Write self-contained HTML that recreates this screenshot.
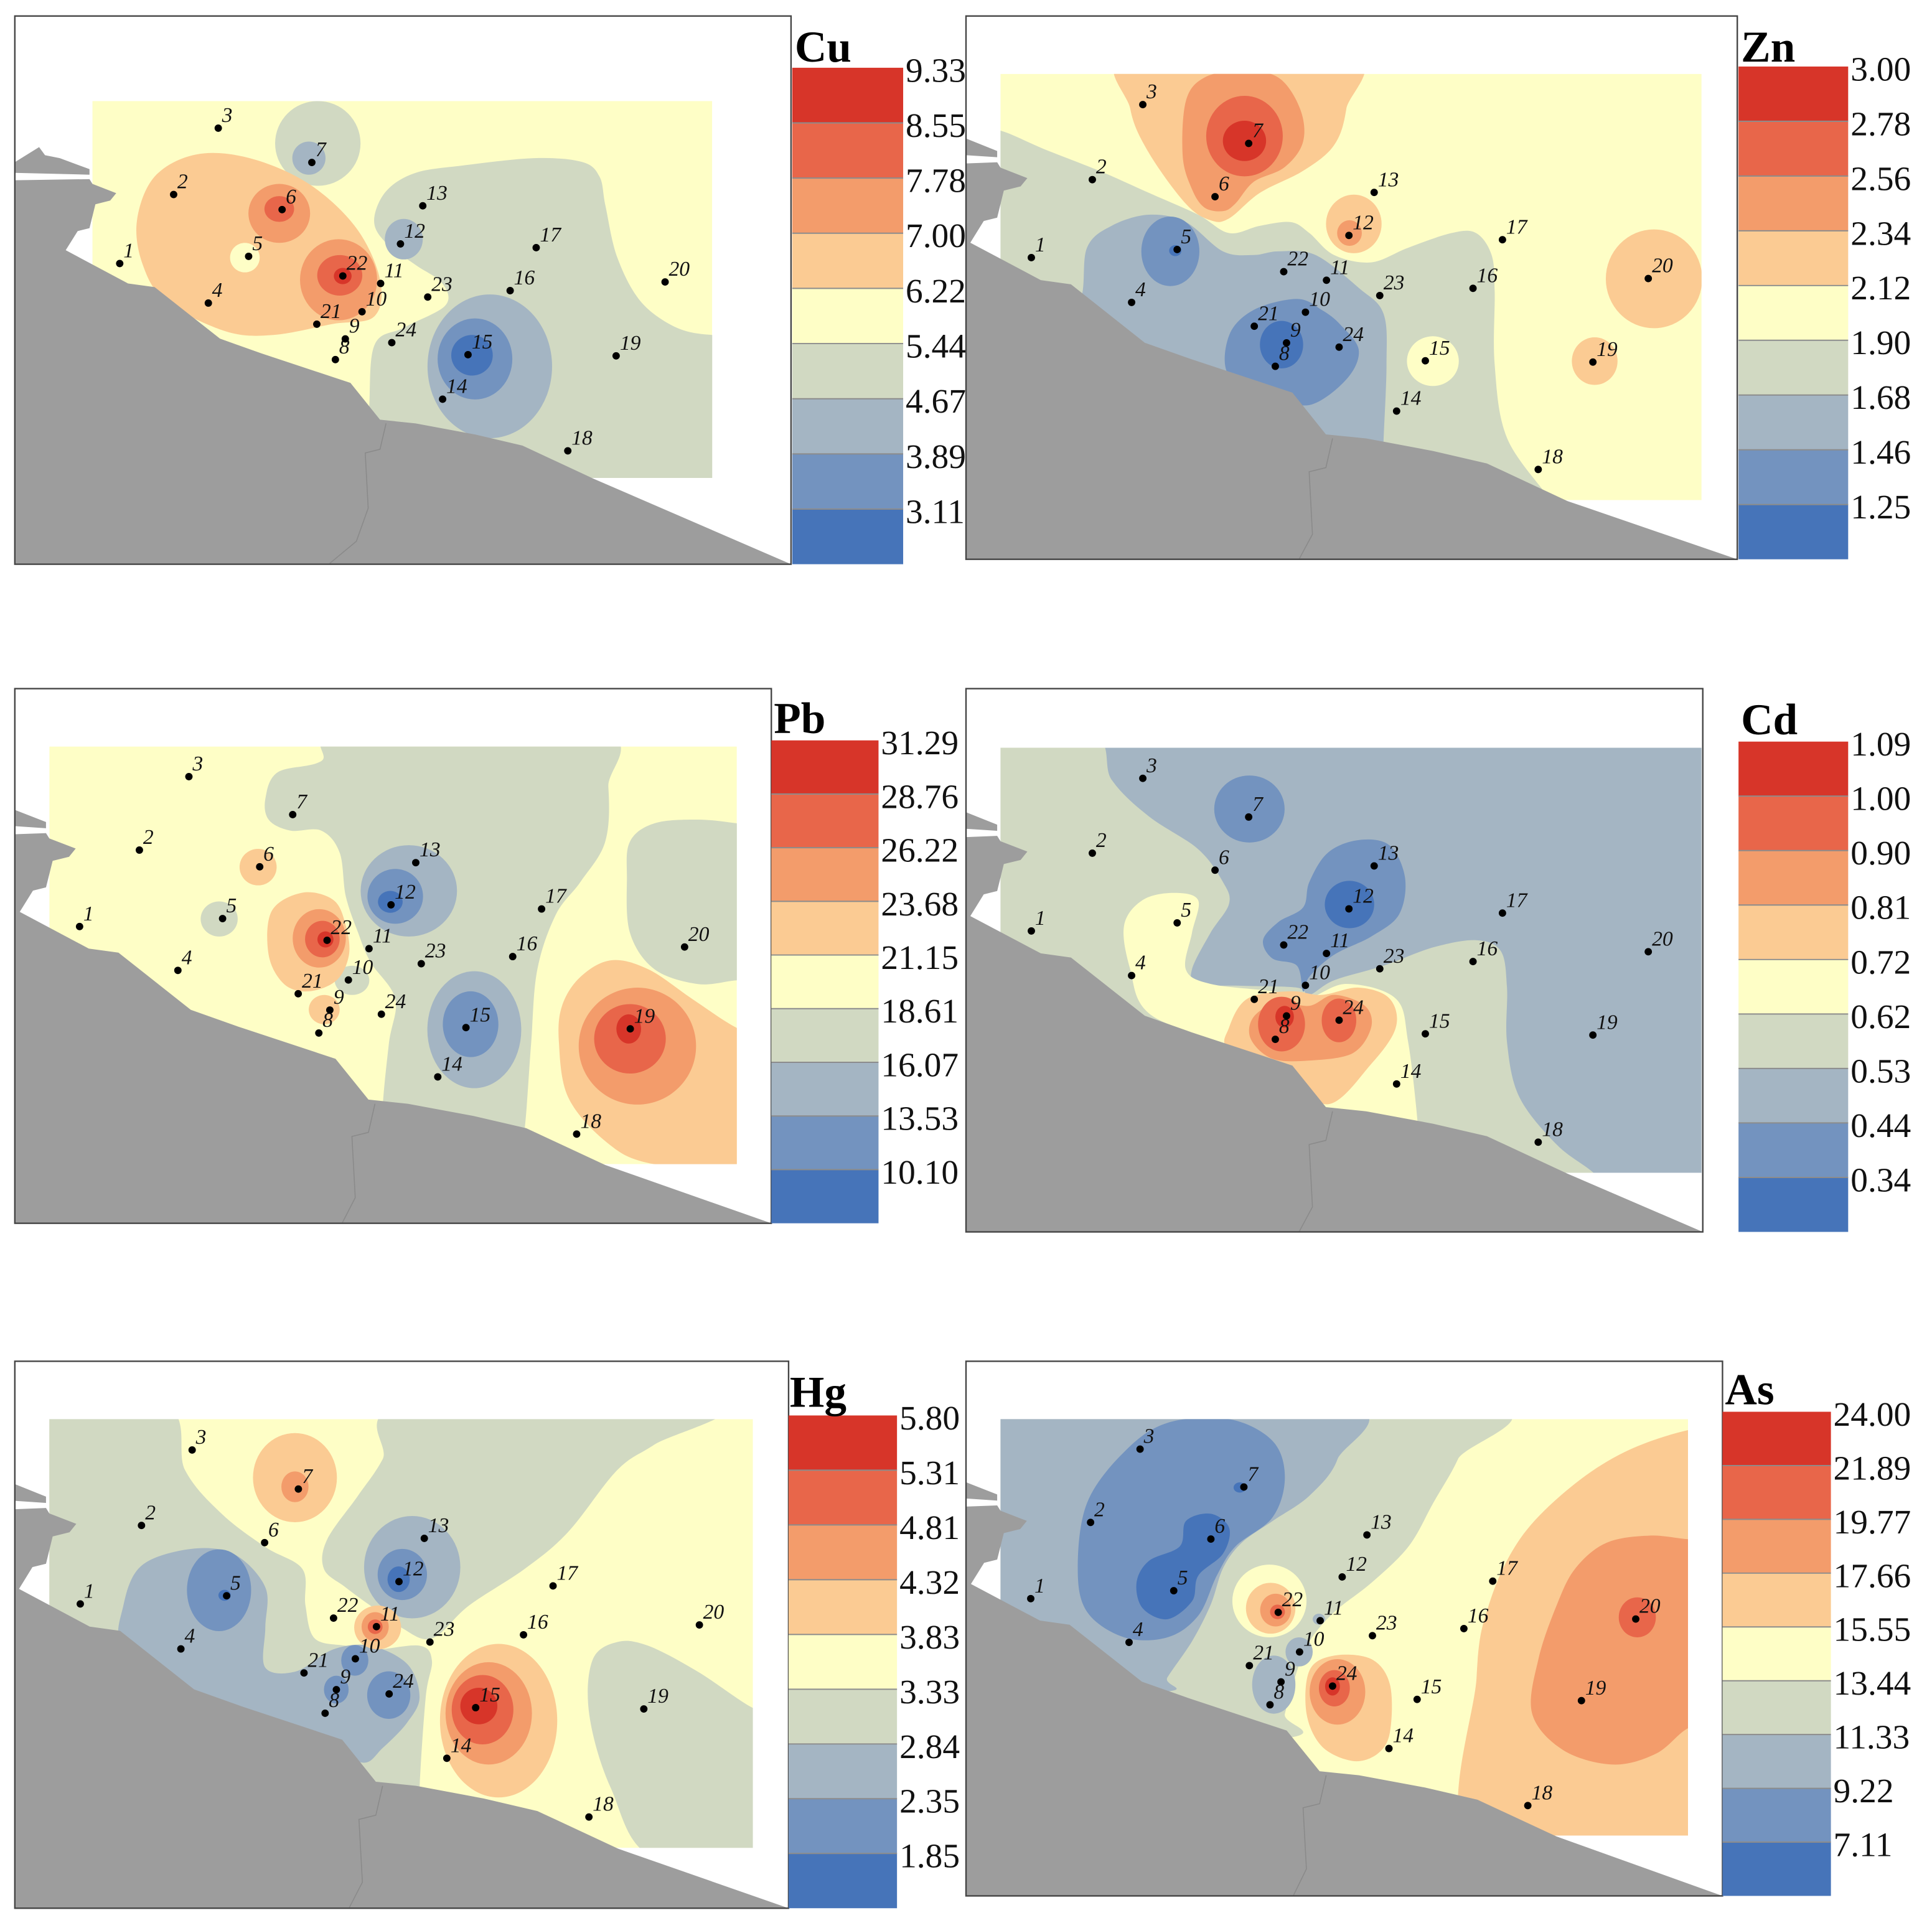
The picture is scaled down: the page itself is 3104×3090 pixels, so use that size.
<!DOCTYPE html>
<html><head><meta charset="utf-8">
<style>
html,body{margin:0;padding:0;background:#fff;width:3104px;height:3090px;overflow:hidden;}
svg{display:block;overflow:hidden;}
text{font-family:"Liberation Serif",serif;}
</style></head>
<body>
<svg id="chart" xmlns="http://www.w3.org/2000/svg" width="3104" height="3090" viewBox="0 0 1568 1561">
<rect x="0" y="0" width="1568" height="1561" fill="#ffffff"/>
</svg>
<script>
// ---- data ----
const LEVEL_COLORS=['#4674b9','#7393bf','#a4b5c3','#d1d9c2','#fefec6','#fbcb93','#f39c6b','#e8664a','#d73529'];
const STATION_IDS=['1','2','3','4','5','6','7','8','9','10','11','12','13','14','15','16','17','18','19','20','21','22','23','24'];
const STATION_X=[0.044,0.131,0.203,0.187,0.252,0.306,0.354,0.392,0.408,0.435,0.465,0.497,0.533,0.565,0.606,0.674,0.716,0.767,0.845,0.924,0.362,0.404,0.541,0.483];
const STATION_Y=[0.431,0.248,0.072,0.536,0.412,0.288,0.163,0.686,0.631,0.559,0.484,0.379,0.278,0.791,0.673,0.503,0.389,0.928,0.676,0.480,0.592,0.464,0.520,0.641];
const LAND_TRACE=[155,275,1200,1298];
const LAND_MAIN=[-300,490,25,490,150,487,155,500,195,525,185,545,160,555,150,620,130,628,110,680,215,770,260,780,370,920,440,960,590,1040,640,1140,700,1150,800,1180,880,1210,1000,1300,1330,1530,1500,1650,1500,1800,-300,1800];
const LAND_STUB=[-300,440,25,440,65,400,75,422,100,430,150,460,150,475,-300,470];

const CU_LABELS=['9.33','8.55','7.78','7.00','6.22','5.44','4.67','3.89','3.11'];
const ZN_LABELS=['3.00','2.78','2.56','2.34','2.12','1.90','1.68','1.46','1.25'];
const PB_LABELS=['31.29','28.76','26.22','23.68','21.15','18.61','16.07','13.53','10.10'];
const CD_LABELS=['1.09','1.00','0.90','0.81','0.72','0.62','0.53','0.44','0.34'];
const HG_LABELS=['5.80','5.31','4.81','4.32','3.83','3.33','2.84','2.35','1.85'];
const AS_LABELS=['24.00','21.89','19.77','17.66','15.55','13.44','11.33','9.22','7.11'];

const CU_SHAPES=[
 ['p',3,[600,1350,620,1140,630,940,680,890,750,830,745,770,700,720,650,660,630,600,650,520,700,470,780,450,900,430,980,440,1010,480,1020,560,1040,700,1080,820,1140,890,1200,910,1260,905,1260,1350]],
 ['e',3,535,390,72,115],['e',2,520,430,28,45],['e',2,680,650,32,55],
 ['p',5,[230,600,260,480,330,420,420,430,520,500,600,620,640,760,630,860,560,880,460,910,380,900,280,820,240,720]],
 ['e',4,412,700,25,40],
 ['e',6,470,580,52,80],['e',6,570,760,65,110],['e',7,470,568,25,35],['e',7,572,748,38,55],['e',8,577,750,15,22],
 ['e',2,825,995,105,195],['e',1,800,975,63,110],['e',0,795,965,35,55]
];
const ZN_SHAPES=[
 ['p',3,[20,360,60,360,130,410,220,470,300,530,380,590,430,640,480,620,530,610,560,640,600,700,660,720,720,680,790,640,830,640,855,700,860,800,860,1000,880,1200,950,1370,960,1420,20,1420]],
 ['e',4,760,990,42,68],
 ['p',2,[150,900,190,820,200,680,240,620,300,590,360,610,420,690,470,700,510,690,570,700,640,790,680,860,685,1000,680,1220,680,1320,300,1320]],
 ['e',1,335,690,47,95],['e',0,343,688,10,15],
 ['p',1,[430,920,470,850,540,820,580,850,610,890,640,960,620,1040,560,1110,500,1080,430,1030]],
 ['e',0,515,945,35,65],
 ['p',5,[270,150,625,150,620,300,600,400,550,470,480,530,430,600,400,605,360,560,300,420,270,300]],
 ['p',6,[360,280,390,215,450,195,510,215,545,300,550,390,520,460,470,500,440,560,420,580,390,570,370,520,355,430]],
 ['e',7,455,375,62,110],['e',8,455,388,35,55],
 ['e',5,632,615,45,80],['e',6,625,640,20,35],
 ['e',5,1118,765,78,135],['e',5,1022,990,37,65]
];
const PB_SHAPES=[
 ['p',3,[430,330,450,260,520,230,560,150,970,150,985,300,980,450,940,560,900,650,870,800,860,1000,850,1230,840,1300,620,1300,620,1170,630,1000,640,880,600,780,580,700,560,600,550,480,520,420,470,420,435,390]],
 ['p',3,[1020,450,1060,400,1130,390,1193,400,1240,410,1240,830,1193,830,1130,840,1060,800,1020,700,1015,550]],
 ['e',3,355,662,30,48],['e',3,570,830,28,40],
 ['e',2,662,585,78,125],['e',1,640,600,45,75],['e',0,632,615,20,30],
 ['e',2,768,965,76,160],['e',1,762,950,45,90],
 ['e',5,418,520,30,50],['e',5,525,910,25,40],
 ['p',5,[440,640,490,590,540,610,560,680,565,760,545,830,500,860,460,840,435,760]],
 ['e',6,517,715,43,80],['e',7,522,717,28,50],['e',8,527,718,13,22],
 ['p',5,[910,900,940,820,990,775,1050,800,1120,880,1193,960,1240,980,1240,1360,1193,1350,1050,1330,980,1270,920,1150,905,1000]],
 ['e',6,1032,1010,95,160],['e',7,1020,990,58,95],['e',8,1018,963,20,40]
];
const CD_SHAPES=[
 ['p',3,[0,150,205,150,240,280,300,380,380,470,420,560,430,620,400,700,370,800,380,840,450,845,540,850,560,870,600,830,680,790,760,740,830,720,870,750,880,850,880,1000,900,1150,960,1280,1020,1358,1050,1420,0,1420]],
 ['p',4,[260,680,290,610,340,590,380,610,370,700,360,800,400,840,500,860,555,880,620,840,700,880,720,1000,735,1215,735,1300,580,1250,420,1020,300,920,270,800]],
 ['p',5,[430,960,460,880,530,860,580,870,640,850,690,880,700,960,660,1060,590,1170,520,1080,430,1020]],
 ['p',6,[470,930,510,890,560,900,600,870,650,900,660,960,630,1030,560,1050,500,1045,465,990]],
 ['e',7,515,950,38,75],['e',7,608,940,28,60],['e',8,520,930,15,30],
 ['e',1,463,360,57,92],
 ['p',1,[485,720,510,670,550,630,560,560,590,480,640,445,690,460,715,550,705,650,660,710,600,760,560,820,550,860,540,790,500,770]],
 ['e',0,625,622,40,65]
];
const HG_SHAPES=[
 ['p',3,[0,150,265,150,300,330,360,450,430,540,490,600,495,700,510,790,560,810,610,820,680,810,700,850,690,950,680,1200,680,1400,0,1400]],
 ['p',3,[660,150,1160,150,1060,260,1000,330,920,500,850,600,760,700,700,790,650,760,600,700,560,650,525,600,530,520,580,400,620,300]],
 ['p',3,[960,850,1000,800,1050,810,1130,880,1220,980,1260,990,1260,1390,1060,1390,990,1200,955,1000]],
 ['p',2,[200,700,230,590,310,545,380,560,430,650,430,760,430,870,480,880,540,820,600,810,660,860,680,950,660,1020,620,1090,590,1130,540,1090,400,1000,300,920,200,820]],
 ['e',1,355,658,52,112],['e',0,364,672,10,15],
 ['e',1,575,850,22,42],['e',1,545,930,20,38],['e',1,630,945,35,65],
 ['e',2,668,595,78,140],['e',1,652,615,40,70],['e',0,646,628,18,35],
 ['e',5,478,350,68,122],['e',6,478,375,22,42],
 ['e',5,612,760,38,60],['e',6,608,758,22,40],['e',7,608,758,12,20],
 ['e',5,808,1015,95,210],['e',6,792,995,70,140],['e',7,782,985,50,95],['e',8,776,975,30,50]
];
const AS_SHAPES=[
 ['p',3,[0,150,835,150,800,300,760,420,720,540,660,640,600,720,560,800,540,880,520,1000,510,1070,0,1100]],
 ['p',2,[0,150,612,150,605,300,560,400,500,470,450,530,420,600,400,700,370,800,330,900,320,940,0,940]],
 ['p',1,[185,600,200,420,260,280,330,200,430,190,500,250,520,350,500,460,440,540,410,620,380,730,330,790,260,790,200,720]],
 ['p',0,[280,640,300,580,350,540,360,470,400,450,430,490,420,560,380,620,370,690,330,740,290,710]],
 ['e',0,447,378,10,14],
 ['e',4,495,690,60,100],['e',5,497,710,40,70],['e',6,505,715,25,45],['e',7,508,720,12,20],
 ['e',2,575,740,10,15],['e',2,543,830,22,40],['e',2,502,920,35,80],
 ['p',5,[560,880,600,840,660,850,690,920,690,1050,670,1110,630,1130,580,1090,555,1000]],
 ['e',6,605,940,45,90],['e',7,600,930,25,50],['e',8,597,925,12,25],
 ['p',5,[830,1390,830,900,850,700,900,520,980,380,1070,280,1172,220,1240,220,1240,1390]],
 ['p',6,[930,850,960,700,990,600,1040,530,1110,510,1172,520,1220,520,1220,1020,1172,1040,1120,1110,1050,1140,970,1100,920,1000]],
 ['e',7,1090,735,30,55]
];

const PANELS=[
 {key:'cu',title:'Cu',frame:[12,13,630,445],rect:[75,82,503,306],cbar:[643,55,90,403],titlePos:[645,50],labels:CU_LABELS,bg:4,trace:[155,275,1200,1298],shapes:CU_SHAPES},
 {key:'zn',title:'Zn',frame:[784,13,626,441],rect:[812,60,569,346],cbar:[1411,54,89,400],titlePos:[1413,50],labels:ZN_LABELS,bg:4,trace:[60,205,1195,1370],shapes:ZN_SHAPES},
 {key:'pb',title:'Pb',frame:[12,559,614,434],rect:[40,606,558,339],cbar:[626,601,87,392],titlePos:[628,595],labels:PB_LABELS,bg:4,trace:[80,190,1193,1333],shapes:PB_SHAPES},
 {key:'cd',title:'Cd',frame:[784,559,598,441],rect:[812,607,569,345],cbar:[1411,602,89,398],titlePos:[1413,596],labels:CD_LABELS,bg:2,trace:[60,192,1195,1358],shapes:CD_SHAPES},
 {key:'hg',title:'Hg',frame:[12,1105,628,444],rect:[40,1152,571,348],cbar:[640,1149,88,400],titlePos:[641,1142],labels:HG_LABELS,bg:4,trace:[80,190,1220,1363],shapes:HG_SHAPES},
 {key:'as',title:'As',frame:[784,1105,614,434],rect:[812,1152,558,338],cbar:[1398,1146,88,393],titlePos:[1400,1140],labels:AS_LABELS,bg:4,trace:[60,190,1172,1335],shapes:AS_SHAPES}
];

// ---- drawing ----
const NS='http://www.w3.org/2000/svg';
const svg=document.getElementById('chart');
function mk(tag,attrs,parent){const e=document.createElementNS(NS,tag);for(const k in attrs)e.setAttribute(k,attrs[k]);(parent||svg).appendChild(e);return e;}
function smoothClosed(pts){
  const n=pts.length;let d='M'+pts[0][0].toFixed(1)+','+pts[0][1].toFixed(1);
  for(let i=0;i<n;i++){
    const p0=pts[(i-1+n)%n],p1=pts[i],p2=pts[(i+1)%n],p3=pts[(i+2)%n];
    const c1=[p1[0]+(p2[0]-p0[0])/6,p1[1]+(p2[1]-p0[1])/6];
    const c2=[p2[0]-(p3[0]-p1[0])/6,p2[1]-(p3[1]-p1[1])/6];
    d+='C'+c1[0].toFixed(1)+','+c1[1].toFixed(1)+' '+c2[0].toFixed(1)+','+c2[1].toFixed(1)+' '+p2[0].toFixed(1)+','+p2[1].toFixed(1);
  }
  return d+'Z';
}
const defs=mk('defs',{});
PANELS.forEach(function(P){
  const R=P.rect,T=P.trace,F=P.frame;
  const xs=function(nx){return R[0]+nx*R[2];};
  const ys=function(ny){return R[1]+ny*R[3];};
  const tx=function(z){return xs((z-T[0])/(T[2]-T[0]));};
  const ty=function(z){return ys((z-T[1])/(T[3]-T[1]));};
  const clampX=function(v){return Math.max(F[0],Math.min(F[0]+F[2],v));};
  const clampY=function(v){return Math.max(F[1],Math.min(F[1]+F[3],v));};
  const lx=function(z){return clampX(xs((z-LAND_TRACE[0])/(LAND_TRACE[2]-LAND_TRACE[0])));};
  const ly=function(z){return clampY(ys((z-LAND_TRACE[1])/(LAND_TRACE[3]-LAND_TRACE[1])));};

  const cpR=mk('clipPath',{id:'cr-'+P.key},defs);mk('rect',{x:R[0],y:R[1],width:R[2],height:R[3]},cpR);
  const cpF=mk('clipPath',{id:'cf-'+P.key},defs);mk('rect',{x:F[0],y:F[1],width:F[2],height:F[3]},cpF);

  const g=mk('g',{});
  
  
  mk('rect',{x:F[0],y:F[1],width:F[2],height:F[3],fill:'#ffffff'},g);

  const cg=mk('g',{'clip-path':'url(#cr-'+P.key+')'},g);
  
  
  mk('rect',{x:R[0],y:R[1],width:R[2],height:R[3],fill:LEVEL_COLORS[P.bg]},cg);
  P.shapes.forEach(function(s){
    let el;
    if(s[0]==='e'){
      el=mk('ellipse',{cx:tx(s[2]),cy:ty(s[3]),rx:Math.abs(tx(s[2]+s[4])-tx(s[2])),ry:Math.abs(ty(s[3]+s[5])-ty(s[3])),fill:LEVEL_COLORS[s[1]]},cg);
    } else {
      const pts=[];for(let i=0;i<s[2].length;i+=2)pts.push([clampX(tx(s[2][i])),clampY(ty(s[2][i+1]))]);
      el=mk('path',{d:smoothClosed(pts),fill:LEVEL_COLORS[s[1]]},cg);
    }
    
    
  });

  const lg=mk('g',{'clip-path':'url(#cf-'+P.key+')'},g);
  [LAND_MAIN,LAND_STUB].forEach(function(arr,ii){
    let d='';for(let i=0;i<arr.length;i+=2)d+=(i?'L':'M')+lx(arr[i]).toFixed(1)+','+ly(arr[i+1]).toFixed(1);
    const el=mk('path',{d:d+'Z',fill:'#9d9d9d'},lg);
    
    
  });
  const riv=mk('path',{d:'M'+lx(650).toFixed(1)+','+ly(1150).toFixed(1)+'L'+lx(640).toFixed(1)+','+ly(1220).toFixed(1)+'L'+lx(615).toFixed(1)+','+ly(1230).toFixed(1)+'L'+lx(620).toFixed(1)+','+ly(1380).toFixed(1)+'L'+lx(600).toFixed(1)+','+ly(1470).toFixed(1)+'L'+lx(555).toFixed(1)+','+ly(1530).toFixed(1),fill:'none',stroke:'#8a8a8a','stroke-width':0.8},lg);
  
  

  const fr=mk('rect',{x:F[0],y:F[1],width:F[2],height:F[3],fill:'none',stroke:'#444','stroke-width':1.2},g);
  
  

  STATION_IDS.forEach(function(id,i){
    const x=xs(STATION_X[i]),y=ys(STATION_Y[i]);
    const c=mk('circle',{cx:x,cy:y,r:3,fill:'#000'},g);
    
    
    const t=mk('text',{x:x+3,y:y-5,'font-size':17,'font-style':'italic',fill:'#111'},g);
    t.textContent=id;
    
    
  });

  const C=P.cbar,n=P.labels.length,bh=C[3]/n;
  const cb=mk('g',{},g);
  
  
  for(let i=0;i<n;i++){
    const b=mk('rect',{x:C[0],y:C[1]+i*bh,width:C[2],height:bh,fill:LEVEL_COLORS[n-1-i]},cb);
    
    
    if(i>0)mk('line',{x1:C[0],x2:C[0]+C[2],y1:C[1]+i*bh,y2:C[1]+i*bh,stroke:'#8c8c8c','stroke-width':1},cb);
    const t=mk('text',{x:C[0]+C[2]+2,y:C[1]+i*bh+2,'font-size':28,'dominant-baseline':'central',fill:'#111'},cb);
    t.textContent=P.labels[i];
    
    
  }
  const tt=mk('text',{x:P.titlePos[0],y:P.titlePos[1],'font-size':36,'font-weight':'bold',fill:'#000'},g);
  tt.textContent=P.title;
  
  
});
</script>
</body></html>
